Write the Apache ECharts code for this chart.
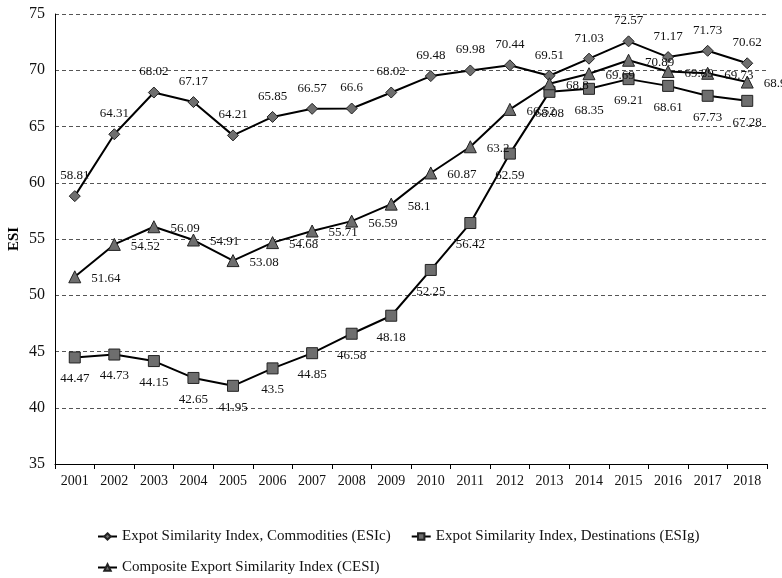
<!DOCTYPE html>
<html>
<head>
<meta charset="utf-8">
<script src="https://cdn.jsdelivr.net/npm/echarts@6/dist/echarts.min.js"></script>
<style>
  html, body { margin: 0; padding: 0; background: #fff; }
  #chart { width: 782px; height: 578px; }
</style>
</head>
<body>
<div id="chart"></div>
<script>
const years = ['2001', '2002', '2003', '2004', '2005', '2006', '2007', '2008', '2009',
  '2010', '2011', '2012', '2013', '2014', '2015', '2016', '2017', '2018'];

const esic = [58.81, 64.31, 68.02, 67.17, 64.21, 65.85, 66.57, 66.6, 68.02,
  69.48, 69.98, 70.44, 69.51, 71.03, 72.57, 71.17, 71.73, 70.62];
const esig = [44.47, 44.73, 44.15, 42.65, 41.95, 43.5, 44.85, 46.58, 48.18,
  52.25, 56.42, 62.59, 68.08, 68.35, 69.21, 68.61, 67.73, 67.28];
const cesi = [51.64, 54.52, 56.09, 54.91, 53.08, 54.68, 55.71, 56.59, 58.1,
  60.87, 63.2, 66.52, 68.8, 69.69, 70.89, 69.89, 69.73, 68.95];

const names = [
  'Expot Similarity Index, Commodities (ESIc)',
  'Expot Similarity Index, Destinations (ESIg)',
  'Composite Export Similarity Index (CESI)'
];

const font = 'Liberation Serif';
const markerStyle = { color: '#6e6e6e', borderColor: '#222', borderWidth: 1 };

function lineSeries(name, data, symbol, size, label) {
  return {
    name: name,
    type: 'line',
    data: data,
    symbol: symbol,
    symbolSize: size,
    showAllSymbol: true,
    lineStyle: { color: '#000', width: 2 },
    itemStyle: markerStyle,
    label: Object.assign({
      show: true,
      color: '#111',
      fontFamily: font,
      fontSize: 13
    }, label),
    animation: false
  };
}

const legendText = { fontFamily: font, fontSize: 15, color: '#111' };

const chart = echarts.init(document.getElementById('chart'));
chart.setOption({
  backgroundColor: '#fff',
  textStyle: { fontFamily: font },
  grid: { left: 55, right: 15, top: 14, bottom: 114, containLabel: false, outerBoundsMode: 'none' },
  legend: [{
    data: [names[0], names[1]],
    left: 92, top: 524,
    itemWidth: 19, itemHeight: 8, itemGap: 20,
    textStyle: legendText
  }, {
    data: [names[2]],
    left: 92, top: 555,
    itemWidth: 19, itemHeight: 8,
    textStyle: legendText
  }],
  xAxis: {
    type: 'category',
    data: years,
    boundaryGap: true,
    axisLine: { lineStyle: { color: '#000', width: 1 } },
    axisTick: { show: true, length: 5, lineStyle: { color: '#000' } },
    axisLabel: { color: '#111', fontFamily: font, fontSize: 14, margin: 10 }
  },
  yAxis: {
    type: 'value',
    min: 35, max: 75, interval: 5,
    name: 'ESI',
    nameLocation: 'middle',
    nameGap: 33,
    nameMoveOverlap: false,
    nameTextStyle: { fontFamily: font, fontSize: 15, fontWeight: 'bold', color: '#000' },
    axisLine: { show: true, lineStyle: { color: '#000', width: 1 } },
    axisTick: { show: false },
    axisLabel: { color: '#111', fontFamily: font, fontSize: 16, margin: 10 },
    splitLine: { lineStyle: { color: '#555', type: [4, 3], width: 1 } }
  },
  series: [
    lineSeries(names[0], esic, 'diamond', 11, { position: 'top', distance: 8 }),
    lineSeries(names[1], esig, 'rect', 11, { position: 'bottom', distance: 9 }),
    lineSeries(names[2], cesi, 'triangle', 12, { position: 'right', distance: 10, offset: [0, 2] })
  ]
});
</script>
</body>
</html>
